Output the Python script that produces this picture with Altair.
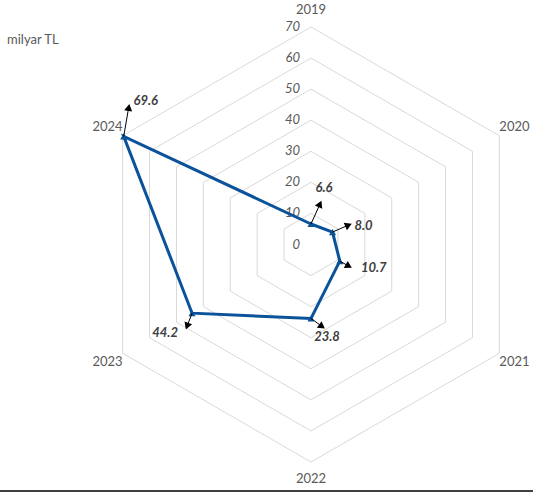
import altair as alt
import pandas as pd

# Series
categories = ["2019", "2020", "2021", "2022", "2023", "2024"]
values = [6.6, 8.0, 10.7, 23.8, 44.2, 69.6]

# Radial scale
ring_levels = [10, 20, 30, 40, 50, 60, 70]
tick_levels = [0, 10, 20, 30, 40, 50, 60, 70]
unit_label = "milyar TL"

# Layout of the value callouts, in pixels relative to each point
label_dx = [13, 31, 34, 16, -27, 22]
label_dy = [-36, -6, 7, 19, 20, -35]
arrow_dx = [9, 16, 9, 11, -5, 5]
arrow_dy = [-20, -7, 5, 8, 13, -29]

W, H = 533, 493
CX, CY = 311, 244.5          # centre of the radar in pixels
PPU = 217.5 / 70             # pixels per value unit
CAT_R = 75.6                 # radius of the category labels (value units)

FONT = "Lato"
BLUE = "#0A5299"
GREY = "#595959"

xs = alt.Scale(domain=[-CX / PPU, (W - CX) / PPU], nice=False, zero=False)
ys = alt.Scale(domain=[-(H - CY) / PPU, CY / PPU], nice=False, zero=False)

X = lambda f="x": alt.X(f"{f}:Q", scale=xs, axis=None)
Y = lambda f="y": alt.Y(f"{f}:Q", scale=ys, axis=None)

polar_x = "datum.r * sin(datum.idx * PI / 3)"
polar_y = "datum.r * cos(datum.idx * PI / 3)"

# Hexagonal grid rings
ring_df = pd.DataFrame(
    [{"level": lv, "idx": i % 6, "order": i} for lv in ring_levels for i in range(7)]
)
rings = (
    alt.Chart(ring_df)
    .transform_calculate(r="datum.level")
    .transform_calculate(x=polar_x, y=polar_y)
    .mark_line(color="#D9D9D9", strokeWidth=1)
    .encode(x=X(), y=Y(), detail="level:N", order="order:Q")
)

# Scale labels along the 2019 spoke
tick_df = pd.DataFrame({"level": tick_levels, "label": [str(t) for t in tick_levels]})
ticks = (
    alt.Chart(tick_df)
    .transform_calculate(x="0", y="datum.level")
    .mark_text(align="right", baseline="middle", dx=-11, font=FONT, fontSize=13,
               fontStyle="italic", color=GREY)
    .encode(x=X(), y=Y(), text="label:N")
)

# Category labels around the outside
cat_df = pd.DataFrame({"cat": categories, "idx": range(len(categories))})
cat_labels = (
    alt.Chart(cat_df)
    .transform_calculate(r=str(CAT_R))
    .transform_calculate(x=polar_x, y=polar_y)
    .mark_text(align="center", baseline="middle", font=FONT, fontSize=13, color=GREY)
    .encode(x=X(), y=Y(), text="cat:N")
)

# Series data (closed polygon)
series_df = pd.DataFrame({
    "cat": categories,
    "value": values,
    "idx": range(len(categories)),
    "ldx": label_dx, "ldy": label_dy,
    "adx": arrow_dx, "ady": arrow_dy,
})
closed_df = pd.concat([series_df, series_df.iloc[[0]]], ignore_index=True)
closed_df["order"] = range(len(closed_df))

base_pts = alt.Chart(series_df).transform_calculate(r="datum.value").transform_calculate(
    x=polar_x, y=polar_y
)

line = (
    alt.Chart(closed_df)
    .transform_calculate(r="datum.value")
    .transform_calculate(x=polar_x, y=polar_y)
    .mark_line(color=BLUE, strokeWidth=3, strokeJoin="miter")
    .encode(x=X(), y=Y(), order="order:Q")
)

markers = base_pts.mark_point(shape="triangle-up", filled=True, opacity=1,
                              color=BLUE, size=50).encode(x=X(), y=Y())

# Callout arrows from each point toward its label
arrows_base = base_pts.transform_calculate(
    x2=f"datum.x + datum.adx / {PPU}",
    y2=f"datum.y - datum.ady / {PPU}",
    ang="(atan2(datum.adx, -datum.ady) * 180 / PI + 360) % 360",
    lx=f"datum.x + datum.ldx / {PPU}",
    ly=f"datum.y - datum.ldy / {PPU}",
    lab="format(datum.value, '.1f')",
)
arrow_lines = arrows_base.mark_rule(color="black", strokeWidth=1).encode(
    x=X(), y=Y(), x2="x2:Q", y2="y2:Q"
)
arrow_heads = arrows_base.mark_point(shape="triangle-up", filled=True, opacity=1,
                                     color="black", size=65).encode(
    x=X("x2"), y=Y("y2"), angle=alt.Angle("ang:Q", scale=None)
)
value_labels = arrows_base.mark_text(
    align="center", baseline="middle", font=FONT, fontSize=13,
    fontWeight="bold", fontStyle="italic", color="#404040"
).encode(x=X("lx"), y=Y("ly"), text="lab:N")

# Unit caption and bottom border
one = alt.Data(values=[{}])
unit = alt.Chart(one).mark_text(
    align="left", baseline="middle", font=FONT, fontSize=13, color=GREY, text=unit_label
).encode(x=alt.value(7), y=alt.value(40))
border = alt.Chart(one).mark_rule(color="black", strokeWidth=1.5).encode(
    x=alt.value(0), x2=alt.value(W), y=alt.value(491)
)

chart = (
    alt.layer(rings, ticks, cat_labels, line, markers, arrow_lines, arrow_heads,
              value_labels, unit, border)
    .properties(width=W, height=H, padding=0, autosize=alt.AutoSizeParams(type="none"),
                background="white")
    .configure_view(stroke=None)
)

chart.save("out.html", embed_options={"renderer": "svg", "actions": False})
